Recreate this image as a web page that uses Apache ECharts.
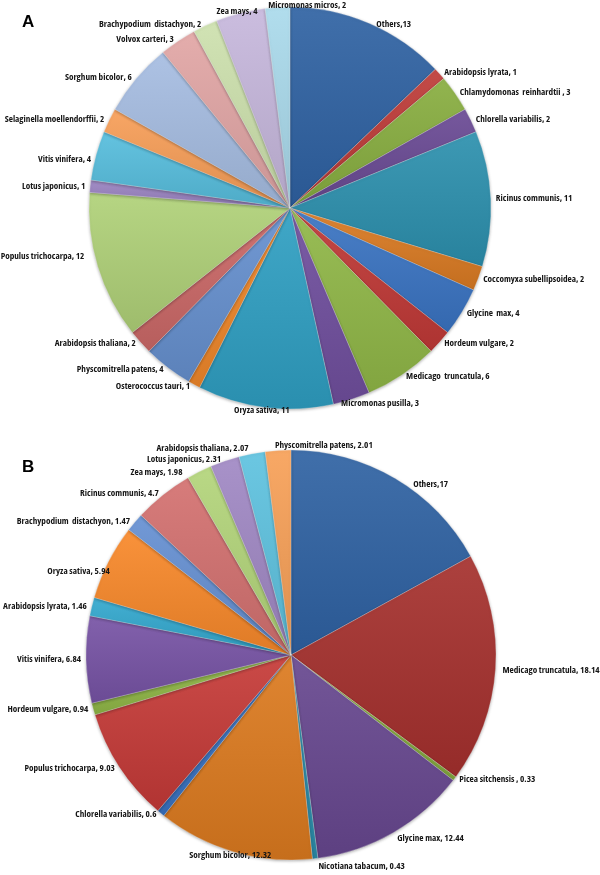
<!DOCTYPE html>
<html><head><meta charset="utf-8">
<script src="https://cdn.jsdelivr.net/npm/echarts@6/dist/echarts.min.js"></script>
<style>html,body{margin:0;padding:0;background:#fff}#c{width:600px;height:875px}</style>
</head><body><div id="c"></div>
<script>
// ---- Panel A ----
const namesA = ['Others','Arabidopsis lyrata','Chlamydomonas  reinhardtii ','Chlorella variabilis','Ricinus communis','Coccomyxa subellipsoidea','Glycine  max','Hordeum vulgare','Medicago  truncatula','Micromonas pusilla','Oryza sativa','Osterococcus tauri','Physcomitrella patens','Arabidopsis thaliana','Populus trichocarpa','Lotus japonicus','Vitis vinifera','Selaginella moellendorffii','Sorghum bicolor','Volvox carteri','Brachypodium  distachyon','Zea mays','Micromonas micros'];
const valuesA = [13,1,3,2,11,2,4,2,6,3,11,1,4,2,12,1,4,2,6,3,2,4,2];
const colorsA = ['#2F62A3','#BE3B38','#88AE40','#6A4A94','#2C90AE','#DA7A22','#3A74C2','#C03936','#90B747','#704F9E','#2F9FC2','#F0872A','#6690CF','#CB6867','#B0D178','#9A83C1','#57BEDD','#F79E58','#A6BDE2','#E2A6A5','#CDE1AD','#C6B7DC','#AADAEB'];

// ---- Panel B ----
const namesB = ['Others','Medicago truncatula','Picea sitchensis ','Glycine max','Nicotiana tabacum','Sorghum bicolor','Chlorella variabilis','Populus trichocarpa','Hordeum vulgare','Vitis vinifera','Arabidopsis lyrata','Oryza sativa','Brachypodium  distachyon','Ricinus communis','Zea mays','Lotus japonicus','Arabidopsis thaliana','Physcomitrella patens'];
const valuesB = [17,18.14,0.33,12.44,0.43,12.32,0.6,9.03,0.94,6.84,1.46,5.94,1.47,4.7,1.98,2.31,2.07,2.01];
const colorsB = ['#2F62A3','#A5302D','#88AE40','#67478F','#2C90AE','#DC7A1F','#3A74C2','#C53A37','#90B747','#7753A5','#33A8CE','#F8892A','#6690D2','#D37170','#B3D57A','#A088C4','#5EC2DF','#F7A058'];

// label nudges as fractions of the label's own width / height (Excel places some labels differently)
const nudgeA = {'Micromonas micros':[0.92,0],'Zea mays':[0.5,0],'Oryza sativa':[0.5,0.1],'Micromonas pusilla':[-0.18,0.2],'Others':[0.1,0.3],'Populus trichocarpa':[-0.1,-1.2],'Vitis vinifera':[0,0.5]};
const nudgeB = {'Physcomitrella patens':[1,-0.3],'Sorghum bicolor':[0.5,0.2],'Others':[0.4,0.8],'Oryza sativa':[0.1,1.1],'Arabidopsis thaliana':[0,-0.4],'Nicotiana tabacum':[0,0.7],'Glycine max':[0,0.4],'Zea mays':[-0.25,0.3],'Medicago truncatula':[0.02,0.2]};

function shade(hex, f){
  const n = parseInt(hex.slice(1),16);
  let r=(n>>16)&255,g=(n>>8)&255,b=n&255;
  const t = f<0?0:255, p=Math.abs(f);
  r=Math.round((t-r)*p+r); g=Math.round((t-g)*p+g); b=Math.round((t-b)*p+b);
  return 'rgb('+r+','+g+','+b+')';
}
function buildData(names, values, colors){
  return names.map((n,i)=>({
    name:n, value:values[i],
    itemStyle:{color:new echarts.graphic.LinearGradient(0,0,0,1,[
      {offset:0,color:shade(colors[i],0.08)},
      {offset:1,color:shade(colors[i],-0.1)}])}
  }));
}
function fmt(p){ return p.name==='Others' ? 'Others,'+p.value : p.name+', '+p.value; }
function mkLayout(map){
  return function(params){
    const name = params.text.split(',')[0];
    const f = map[name];
    if (!f) return {};
    return {dx: f[0]*params.labelRect.width, dy: f[1]*params.labelRect.height};
  };
}
function mkSeries(names, values, colors, center, radius, map){
  return {
    type:'pie', center:center, radius:radius, startAngle:90, clockwise:true,
    avoidLabelOverlap:false, animation:false,
    data:buildData(names,values,colors),
    itemStyle:{borderColor:'rgba(255,255,255,0.4)',borderWidth:0.6,shadowColor:'rgba(0,0,0,0.3)',shadowBlur:3,shadowOffsetY:1},
    label:{show:true, position:'outside', formatter:fmt, color:'#151515', fontSize:9.2, fontStyle:'condensed', fontWeight:'bold', fontFamily:"'Open Sans'", distanceToLabelLine:3, bleedMargin:0, overflow:'none'},
    labelLine:{show:false, length:2, length2:0},
    labelLayout:mkLayout(map),
    emphasis:{disabled:true}
  };
}
const chart = echarts.init(document.getElementById('c'), null, {renderer:'canvas'});
chart.setOption({
  backgroundColor:'#fff',
  title:[
    {text:'A', left:22, top:14, padding:0, textStyle:{fontSize:17, fontWeight:'bold', fontFamily:"'Liberation Sans',sans-serif", color:'#000'}},
    {text:'B', left:22, top:459, padding:0, textStyle:{fontSize:17, fontWeight:'bold', fontFamily:"'Liberation Sans',sans-serif", color:'#000'}}
  ],
  series:[
    mkSeries(namesA, valuesA, colorsA, [290,208], 201, nudgeA),
    mkSeries(namesB, valuesB, colorsB, [291,655], 205, nudgeB)
  ]
});
</script>
</body></html>
